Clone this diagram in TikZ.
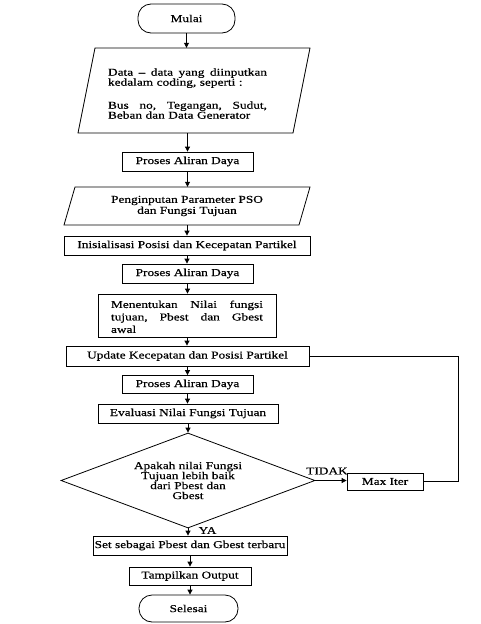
\documentclass[tikz,border=0pt]{standalone}
\usepackage{fontspec}
\setmainfont{Liberation Serif}[FakeStretch=1.27,FakeBold=0.5]
\usetikzlibrary{arrows.meta,shapes.geometric}
\begin{document}
\begin{tikzpicture}[x=1pt,y=-1pt,
  every node/.style={font=\fontsize{10.5}{12}\selectfont, inner sep=0pt},
  ln/.style={line width=0.8pt},
  box/.style={draw, line width=0.8pt, minimum height=19pt},
  term/.style={draw, line width=0.8pt, rounded corners=13pt},
  arr/.style={-{Triangle[length=5pt,width=5pt]}, line width=0.8pt}]
\useasboundingbox (0,0) rectangle (480,624);

\node[term, minimum width=97pt, minimum height=29pt] (mulai) at (186.5,18.5) {Mulai};

\node[minimum width=215pt, minimum height=85pt, text width=159pt, align=left,
  font=\fontsize{10.5}{10}\selectfont] (data) at (187.5,90.5)
  {\rule{0pt}{13.5pt}\makebox[159pt]{Data\hfill--\hfill data\hfill yang\hfill diinputkan}\\
   kedalam coding, seperti :\\[13pt]
   \makebox[159pt]{Bus\hfill no,\hfill Tegangan,\hfill Sudut,}\\
   Beban dan Data Generator};
\draw[ln] (95,48) -- (310,48) -- (293,133) -- (78,133) -- cycle;

\node[box, minimum width=131pt] (pad1) at (187.5,161.5) {Proses Aliran Daya};

\node[minimum width=235pt, minimum height=38pt, align=center,
  font=\fontsize{10.5}{11}\selectfont] (psoin) at (187,206)
  {Penginputan Parameter PSO\\dan Fungsi Tujuan};
\draw[ln] (75,187) -- (310,187) -- (299,225) -- (64,225) -- cycle;

\node[box, minimum width=246pt] (init) at (187,245.5) {Inisialisasi Posisi dan Kecepatan Partikel};

\node[box, minimum width=131pt] (pad2) at (187.5,273.5) {Proses Aliran Daya};

\node[box, minimum width=178pt, minimum height=43pt, text width=152pt, align=left,
  font=\fontsize{10.5}{12.5}\selectfont] (tentukan) at (187,315.5)
  {\rule{0pt}{10pt}\makebox[152pt]{Menentukan\hfill Nilai\hfill fungsi}\\
   \makebox[152pt]{tujuan,\hfill Pbest\hfill dan\hfill Gbest}\\
   awal};

\node[box, minimum width=243pt, minimum height=20pt] (update) at (187.5,356) {Update Kecepatan dan Posisi Partikel};

\node[box, minimum width=131pt, minimum height=18pt] (pad3) at (187.5,384.5) {Proses Aliran Daya};

\node[box, minimum width=180pt] (eval) at (188,413.5) {Evaluasi Nilai Fungsi Tujuan};

\node[draw, line width=0.8pt, diamond, aspect=2.67, minimum width=254pt, minimum height=95pt,
  align=center, font=\fontsize{10.5}{10}\selectfont] (dec) at (188,480.5)
  {Apakah nilai Fungsi\\Tujuan lebih baik\\dari Pbest dan\\Gbest};

\node[box, minimum width=76pt, minimum height=17pt] (maxiter) at (385,481.5) {Max Iter};

\node[box, minimum width=194pt] (set) at (190,545.5) {Set sebagai Pbest dan Gbest terbaru};

\node[box, minimum width=122pt, minimum height=18pt] (tampil) at (190,576) {Tampilkan Output};

\node[term, minimum width=99pt, minimum height=27pt] (selesai) at (188.5,608.5) {Selesai};

\node (tidak) at (327,471) {TIDAK};
\node (ya) at (207.5,530.5) {YA};

\draw[arr] (mulai.south) -- (mulai.south |- data.north);
\draw[arr] (data.south) -- (data.south |- pad1.north);
\draw[arr] (pad1.south) -- (pad1.south |- psoin.north);
\draw[arr] (psoin.south) -- (psoin.south |- init.north);
\draw[arr] (init.south) -- (init.south |- pad2.north);
\draw[arr] (pad2.south) -- (pad2.south |- tentukan.north);
\draw[arr] (tentukan.south) -- (tentukan.south |- update.north);
\draw[arr] (update.south) -- (update.south |- pad3.north);
\draw[arr] (pad3.south) -- (pad3.south |- eval.north);
\draw[arr] (eval.south) -- (eval.south |- dec.north);
\draw[arr] (dec.east) -- (dec.east -| maxiter.west);
\draw[ln] (maxiter.east) -- ++(35,0) |- (update.east);
\draw[arr] (dec.south) -- (dec.south |- set.north);
\draw[arr] (set.south) -- (set.south -| tampil.north) -- (tampil.north);
\draw[arr] (tampil.south) -- (tampil.south |- selesai.north);
\end{tikzpicture}
\end{document}
